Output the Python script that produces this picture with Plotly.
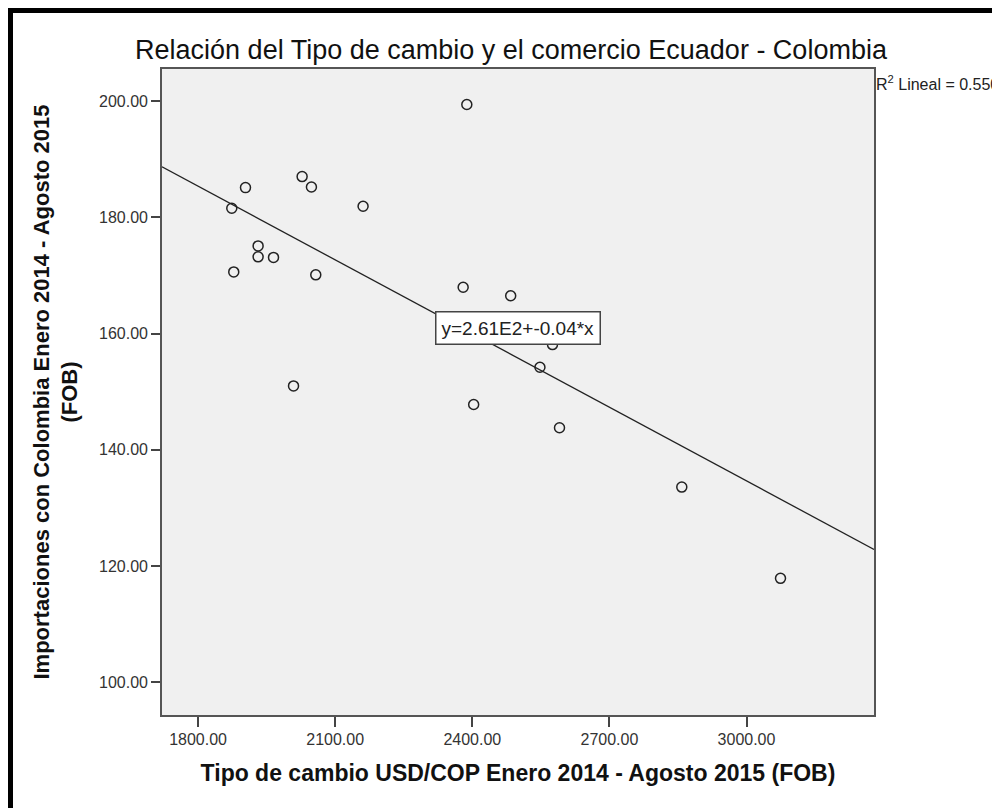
import numpy as np
import plotly.graph_objects as go

# Data (20 months, Jan 2014 - Aug 2015)
tipo_cambio = [2388.0, 2027.6, 2048.0, 1903.7, 1873.7, 2161.0, 1931.3, 1931.3, 1965.0, 1878.0,
               2057.5, 2380.0, 2484.0, 2575.5, 2548.0, 2403.0, 2590.8, 2858.4, 3074.4, 2008.8]
importaciones = [199.4, 187.0, 185.2, 185.1, 181.55, 181.9, 175.07, 173.2, 173.1, 170.6,
                 170.1, 167.97, 166.5, 158.1, 154.2, 147.8, 143.8, 133.6, 117.9, 151.0]

x_ticks = [1800, 2100, 2400, 2700, 3000]
y_ticks = [100, 120, 140, 160, 180, 200]
x_range = [1721, 3279]
y_range = [94.4, 205.5]

title_text = "Relación del Tipo de cambio y el comercio Ecuador - Colombia"
x_title = "Tipo de cambio USD/COP Enero 2014 - Agosto 2015 (FOB)"
y_title = "Importaciones con Colombia Enero 2014 - Agosto 2015<br>(FOB)"
r2_text = "R<sup>2</sup> Lineal = 0.550"
eq_text = "y=2.61E2+-0.04*x"

xs = np.array(tipo_cambio)
ys = np.array(importaciones)
slope, intercept = np.polyfit(xs, ys, 1)
line_x = np.array(x_range, dtype=float)
line_y = intercept + slope * line_x

# page body has an 8px margin, so the figure is 992x800
W, H = 992, 800
L, R, T, B = 154, 126, 61, 93
pw, ph = W - L - R, H - T - B

def px(xp):
    return (xp - L) / pw

def py(yp):
    return (H - B - yp) / ph

fig = go.Figure()
fig.add_trace(go.Scatter(x=line_x, y=line_y, mode="lines",
                         line=dict(color="#222222", width=1.3), hoverinfo="skip",
                         showlegend=False))
fig.add_trace(go.Scatter(x=tipo_cambio, y=importaciones, mode="markers",
                         marker=dict(symbol="circle-open", size=10,
                                     color="#222222", line=dict(width=1.5, color="#222222")),
                         showlegend=False))

font_family = "Liberation Sans, Arial, sans-serif"

fig.update_layout(
    width=W, height=H,
    margin=dict(l=L, r=R, t=T, b=B),
    paper_bgcolor="white",
    plot_bgcolor="#F0F0F0",
    font=dict(family=font_family, color="#222222"),
    title=dict(text=title_text, x=503 / W, xanchor="center",
               y=1 - 42 / H, yanchor="middle", yref="container",
               font=dict(size=27, color="#111111", family=font_family)),
    xaxis=dict(range=x_range, tickvals=x_ticks, ticktext=[f"{v:.2f}" for v in x_ticks],
               showgrid=False, zeroline=False, showline=True, mirror=True,
               linecolor="#555555", linewidth=1.6, ticks="outside", ticklen=10,
               tickwidth=2, tickcolor="#444444", ticklabelstandoff=-1,
               tickfont=dict(size=16, color="#333333"),
               title=dict(text=x_title, standoff=18,
                          font=dict(size=23, color="#111111",
                                    family=font_family, weight="bold"))),
    yaxis=dict(range=y_range, tickvals=y_ticks, ticktext=[f"{v:.2f}" for v in y_ticks],
               showgrid=False, zeroline=False, showline=True, mirror=True,
               linecolor="#555555", linewidth=1.6, ticks="outside", ticklen=9,
               tickwidth=2, tickcolor="#444444",
               tickfont=dict(size=16, color="#333333"),
               title=dict(text=y_title, standoff=15,
                          font=dict(size=22, color="#111111",
                                    family=font_family, weight="bold"))),
    annotations=[
        dict(text=r2_text, xref="paper", yref="paper", x=px(866), y=py(75),
             xanchor="left", yanchor="middle", showarrow=False,
             font=dict(size=16, color="#222222")),
        dict(text=eq_text, xref="paper", yref="paper", x=px(510), y=py(320),
             xanchor="center", yanchor="middle", showarrow=False,
             bgcolor="white", bordercolor="#444444", borderwidth=1.5, borderpad=5,
             font=dict(size=19, color="#222222")),
    ],
    shapes=[
        dict(type="rect", xref="paper", yref="paper",
             x0=px(2), x1=px(1010), y0=py(818), y1=py(2),
             line=dict(color="black", width=6), fillcolor="rgba(0,0,0,0)", layer="above"),
    ],
)

fig.write_html("out.html")
